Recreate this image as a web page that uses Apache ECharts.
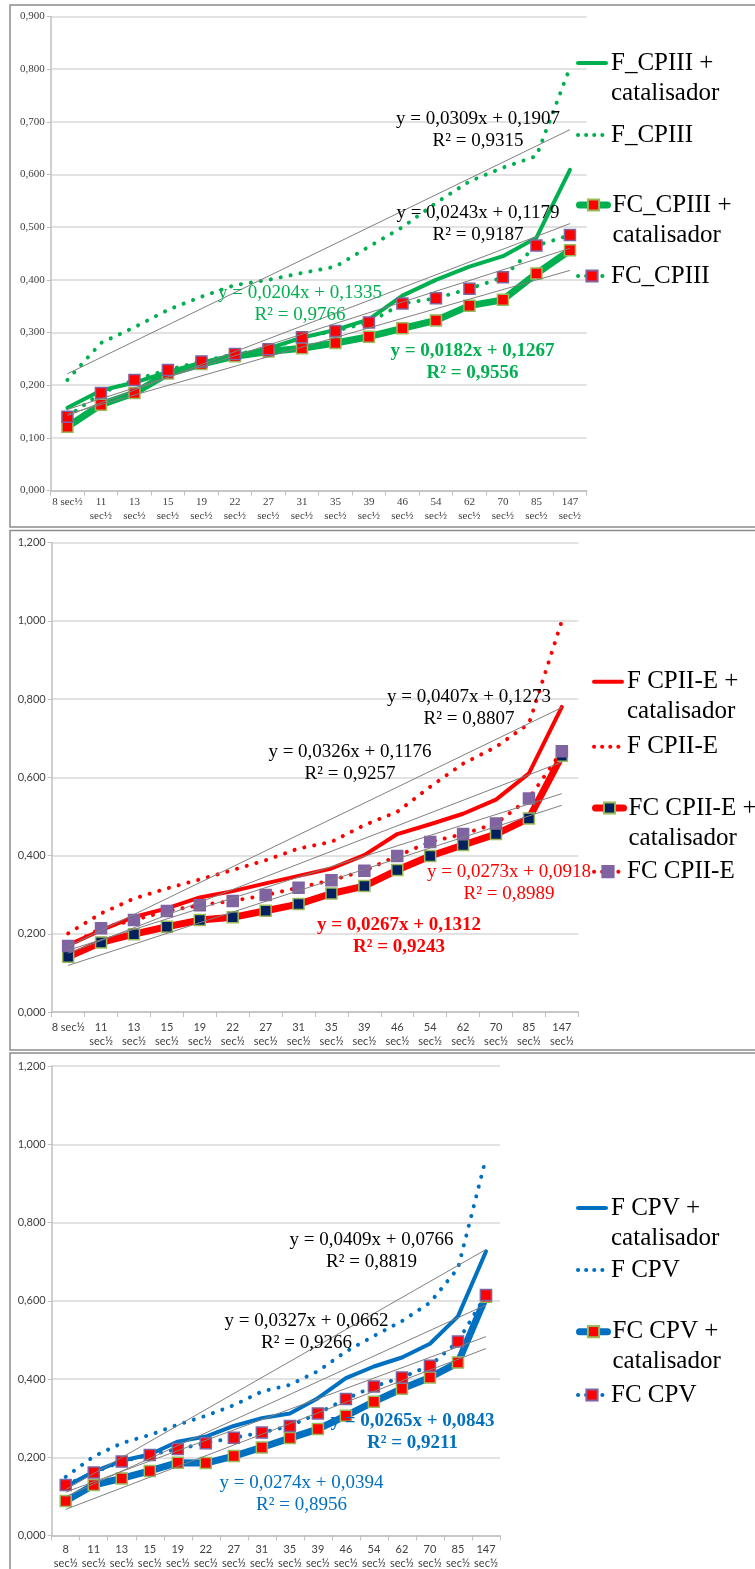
<!DOCTYPE html>
<html>
<head>
<meta charset="utf-8">
<script src="https://cdn.jsdelivr.net/npm/echarts@6/dist/echarts.min.js"></script>
<style>
  html, body { margin: 0; padding: 0; background: #ffffff; }
  #chart { width: 755px; height: 1569px; }
</style>
</head>
<body>
<div id="chart"></div>
<script>
// ---- shared x categories (square root of time) ----
const categories = ['8', '11', '13', '15', '19', '22', '27', '31', '35', '39', '46', '54', '62', '70', '85', '147'];
const timeUnit = 'sec½';

// ---- CPIII ----
const cpiiiNames = ['F_CPIII + catalisador', 'F_CPIII', 'FC_CPIII + catalisador', 'FC_CPIII'];
const cpiiiFCat  = [0.157, 0.190, 0.205, 0.225, 0.240, 0.255, 0.270, 0.290, 0.305, 0.325, 0.370, 0.400, 0.425, 0.445, 0.480, 0.609];
const cpiiiF     = [0.210, 0.280, 0.310, 0.343, 0.368, 0.390, 0.400, 0.413, 0.425, 0.463, 0.500, 0.546, 0.587, 0.613, 0.635, 0.803];
const cpiiiFCCat = [0.121, 0.163, 0.185, 0.222, 0.240, 0.255, 0.264, 0.270, 0.280, 0.292, 0.308, 0.323, 0.351, 0.362, 0.412, 0.456];
const cpiiiFC    = [0.140, 0.185, 0.210, 0.229, 0.245, 0.259, 0.268, 0.291, 0.303, 0.319, 0.355, 0.365, 0.383, 0.405, 0.465, 0.485];
const cpiiiSlope     = [0.0243, 0.0309, 0.0182, 0.0204];
const cpiiiIntercept = [0.1179, 0.1907, 0.1267, 0.1335];
const cpiiiR2        = [0.9187, 0.9315, 0.9556, 0.9766];
const cpiiiTicks = [0, 0.9, 0.1];

// ---- CPII-E ----
const cpiieNames = ['F CPII-E + catalisador', 'F CPII-E', 'FC CPII-E + catalisador', 'FC CPII-E'];
const cpiieFCat  = [0.171, 0.209, 0.243, 0.265, 0.293, 0.309, 0.329, 0.348, 0.367, 0.401, 0.455, 0.480, 0.507, 0.543, 0.610, 0.780];
const cpiieF     = [0.201, 0.252, 0.290, 0.316, 0.339, 0.363, 0.388, 0.418, 0.435, 0.478, 0.512, 0.576, 0.635, 0.678, 0.737, 1.000];
const cpiieFCCat = [0.141, 0.178, 0.199, 0.218, 0.235, 0.242, 0.259, 0.276, 0.303, 0.322, 0.363, 0.399, 0.427, 0.455, 0.495, 0.655];
const cpiieFC    = [0.169, 0.214, 0.235, 0.258, 0.273, 0.284, 0.299, 0.318, 0.337, 0.361, 0.399, 0.435, 0.455, 0.482, 0.546, 0.667];
const cpiieSlope     = [0.0326, 0.0407, 0.0273, 0.0267];
const cpiieIntercept = [0.1176, 0.1273, 0.0918, 0.1312];
const cpiieR2        = [0.9257, 0.8807, 0.8989, 0.9243];
const cpiieTicks = [0, 1.2, 0.2];

// ---- CPV ----
const cpvNames = ['F CPV + catalisador', 'F CPV', 'FC CPV + catalisador', 'FC CPV'];
const cpvFCat  = [0.125, 0.163, 0.191, 0.207, 0.240, 0.253, 0.280, 0.300, 0.312, 0.351, 0.402, 0.432, 0.455, 0.490, 0.560, 0.726];
const cpvF     = [0.150, 0.202, 0.236, 0.257, 0.283, 0.306, 0.333, 0.368, 0.385, 0.420, 0.470, 0.510, 0.548, 0.595, 0.683, 0.965];
const cpvFCCat = [0.088, 0.129, 0.146, 0.165, 0.186, 0.185, 0.203, 0.225, 0.249, 0.272, 0.306, 0.342, 0.375, 0.404, 0.442, 0.610];
const cpvFC    = [0.129, 0.161, 0.189, 0.206, 0.221, 0.236, 0.250, 0.263, 0.280, 0.312, 0.349, 0.381, 0.404, 0.434, 0.496, 0.615];
const cpvSlope     = [0.0327, 0.0409, 0.0274, 0.0265];
const cpvIntercept = [0.0662, 0.0766, 0.0394, 0.0843];
const cpvR2        = [0.9266, 0.8819, 0.8956, 0.9211];
const cpvTicks = [0, 1.2, 0.2];

// ---- styling ----
const SERIF = '"Liberation Serif", "Times New Roman", serif';
const SANS = 'Lato, "Liberation Sans", Arial, sans-serif';
const GREEN = '#00B050', RED = '#FF0000', BLUE = '#0070C0';
const DOT = [0.1, 10];
const LEGEND_DOT = [0.1, 8];

const panels = [
  {
    names: cpiiiNames, values: [cpiiiFCat, cpiiiF, cpiiiFCCat, cpiiiFC],
    slope: cpiiiSlope, intercept: cpiiiIntercept, r2: cpiiiR2, ticks: cpiiiTicks,
    labels: categories.map((c, i) => i === 0 ? c + ' ' + timeUnit : c + '\n' + timeUnit),
    color: GREEN,
    marker: [null, null, { fill: RED, border: '#9BBB59' }, { fill: RED, border: '#8064A2' }],
    grid: { left: 50.7, top: 16.5, width: 536, height: 474 },
    frame: { y: 5, height: 522 },
    axisFont: SERIF, axisFontSize: 11, labelMargin: 5,
    legendLeft: 576, legendIconY: [63, 135, 205, 276],
    eqPos: [[478, 224], [478, 130.3], [472.5, 361.7], [300, 304]],
    eqColor: ['#000000', '#000000', GREEN, GREEN], eqBold: [false, false, true, false]
  },
  {
    names: cpiieNames, values: [cpiieFCat, cpiieF, cpiieFCCat, cpiieFC],
    slope: cpiieSlope, intercept: cpiieIntercept, r2: cpiieR2, ticks: cpiieTicks,
    labels: categories.map((c, i) => i === 0 ? c + ' ' + timeUnit : c + '\n' + timeUnit),
    color: RED,
    marker: [null, null, { fill: '#002060', border: '#9BBB59' }, { fill: '#8064A2', border: '#8064A2' }],
    grid: { left: 51.7, top: 542.7, width: 526.6, height: 469.3 },
    frame: { y: 530.5, height: 519.5 },
    axisFont: SANS, axisFontSize: 11, labelMargin: 8,
    legendLeft: 592, legendIconY: [681.7, 746.7, 808, 871.7],
    eqPos: [[350, 762.8], [469, 708], [509, 882.8], [399, 936.3]],
    eqColor: ['#000000', '#000000', RED, RED], eqBold: [false, false, false, true]
  },
  {
    names: cpvNames, values: [cpvFCat, cpvF, cpvFCCat, cpvFC],
    slope: cpvSlope, intercept: cpvIntercept, r2: cpvR2, ticks: cpvTicks,
    labels: categories.map(c => c + '\n' + timeUnit),
    color: BLUE,
    marker: [null, null, { fill: RED, border: '#9BBB59' }, { fill: RED, border: '#8064A2' }],
    grid: { left: 51.7, top: 1066, width: 448.3, height: 469.5 },
    frame: { y: 1053, height: 530 },
    axisFont: SANS, axisFontSize: 11, labelMargin: 6.5,
    legendLeft: 576, legendIconY: [1208, 1270, 1331.7, 1395],
    eqPos: [[306.5, 1332.5], [371.5, 1251], [301.5, 1493.7], [412.5, 1432.5]],
    eqColor: ['#000000', '#000000', BLUE, BLUE], eqBold: [false, false, false, true]
  }
];

const fmtAxis = v => v.toFixed(3).replace('.', ',');
const fmtCoef = v => v.toFixed(4).replace('.', ',');

const grids = [], xAxes = [], yAxes = [], series = [], legends = [], graphics = [];
// per-role line styles: solid, dotted, thick solid with squares, dotted with squares
const widths = [4, 4, 7, 4];
const dashed = [false, true, false, true];

panels.forEach((p, pi) => {
  grids.push(Object.assign({ containLabel: false, outerBoundsMode: 'none' }, p.grid));

  xAxes.push({
    type: 'category', gridIndex: pi, data: p.labels, boundaryGap: true,
    axisLine: { show: true, lineStyle: { color: '#BFBFBF', width: 1.5 } },
    axisTick: { show: true, length: 5, interval: 0, lineStyle: { color: '#BFBFBF', width: 1 } },
    axisLabel: { interval: 0, margin: p.labelMargin, color: '#404040', fontFamily: p.axisFont,
                 fontSize: p.axisFontSize, lineHeight: 14 },
    splitLine: { show: false }
  });

  yAxes.push({
    type: 'value', gridIndex: pi, min: p.ticks[0], max: p.ticks[1], interval: p.ticks[2],
    axisLine: { show: true, lineStyle: { color: '#BFBFBF', width: 1.5 } },
    axisTick: { show: true, length: 4, lineStyle: { color: '#BFBFBF' } },
    axisLabel: { formatter: fmtAxis, margin: 6, color: '#404040', fontFamily: p.axisFont, fontSize: p.axisFontSize },
    splitLine: { show: true, lineStyle: { color: '#D9D9D9', width: 1.5 } }
  });

  p.names.forEach((name, si) => {
    const mk = p.marker[si];
    series.push({
      name, type: 'line', xAxisIndex: pi, yAxisIndex: pi, data: p.values[si],
      symbol: mk ? 'rect' : 'none', symbolSize: 11, showSymbol: !!mk,
      lineStyle: { color: p.color, width: widths[si], type: dashed[si] ? DOT : 'solid', cap: 'round', join: 'round' },
      itemStyle: mk ? { color: mk.fill, borderColor: mk.border, borderWidth: 1.5 } : { color: p.color },
      emphasis: { disabled: true }, animation: false, z: 2 + si * 0.1
    });
  });

  // linear trend lines from the fitted coefficients
  p.slope.forEach((s, si) => {
    const trend = categories.map(() => null);
    trend[0] = s * 1 + p.intercept[si];
    trend[categories.length - 1] = s * categories.length + p.intercept[si];
    series.push({
      name: 'trend-' + pi + '-' + si, type: 'line', xAxisIndex: pi, yAxisIndex: pi, data: trend,
      connectNulls: true, symbol: 'none', silent: true, animation: false, z: 3,
      lineStyle: { color: '#808080', width: 1 }
    });
  });

  // one legend block per entry; two-line entries get an empty leading line so
  // the key sits beside the first line of text
  p.names.forEach((name, si) => {
    const twoLine = name.indexOf(' catalisador') >= 0;
    const hasMarker = !!p.marker[si];
    legends.push({
      data: [name], orient: 'vertical', left: p.legendLeft,
      top: p.legendIconY[si] - (twoLine ? 45 : 15),
      padding: 0, itemWidth: 28, itemHeight: 14, selectedMode: false,
      itemStyle: hasMarker ? {} : { opacity: 0 },
      lineStyle: { color: p.color, width: widths[si], type: dashed[si] ? LEGEND_DOT : 'solid', cap: 'round' },
      formatter: n => n.indexOf(' catalisador') >= 0 ? '\n' + n.replace(' catalisador', '\ncatalisador') : n,
      textStyle: { fontFamily: SERIF, fontSize: 25, lineHeight: 30, color: '#000000' }
    });
  });

  // frame around each chart
  graphics.push({
    type: 'rect', shape: { x: 10, y: p.frame.y, width: 760, height: p.frame.height },
    style: { fill: 'none', stroke: '#8C8C8C', lineWidth: 1.5 }, silent: true, z: 0
  });

  // trend equations
  p.slope.forEach((s, si) => {
    graphics.push({
      type: 'text', x: p.eqPos[si][0], y: p.eqPos[si][1], silent: true, z: 20,
      style: {
        text: 'y = ' + fmtCoef(s) + 'x + ' + fmtCoef(p.intercept[si]) + '\nR² = ' + fmtCoef(p.r2[si]),
        fill: p.eqColor[si], fontFamily: SERIF, fontSize: 19,
        fontWeight: p.eqBold[si] ? 'bold' : 'normal', lineHeight: 22,
        textAlign: 'center', textVerticalAlign: 'middle', verticalAlign: 'middle'
      }
    });
  });
});

const chart = echarts.init(document.getElementById('chart'));
chart.setOption({
  backgroundColor: '#ffffff',
  animation: false,
  grid: grids,
  xAxis: xAxes,
  yAxis: yAxes,
  legend: legends,
  series: series,
  graphic: graphics
});
</script>
</body>
</html>
